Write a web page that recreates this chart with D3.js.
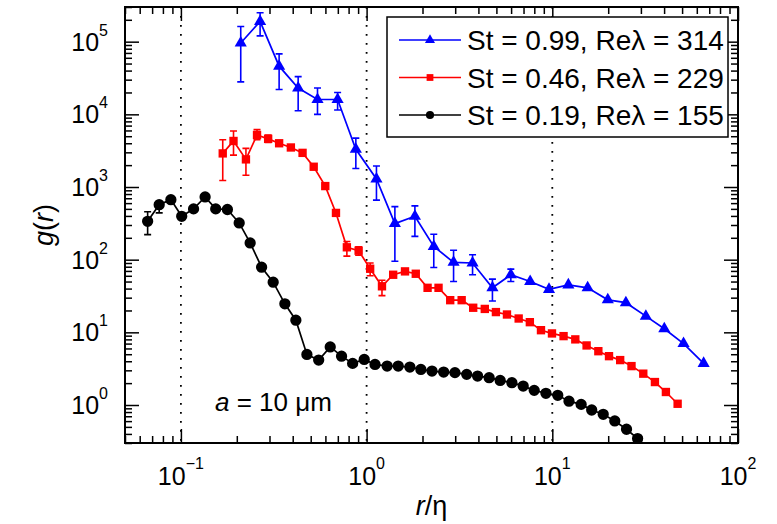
<!DOCTYPE html>
<html>
<head>
<meta charset="utf-8">
<script src="https://cdn.jsdelivr.net/npm/d3@7"></script>
<style>
  body { margin: 0; background: #fff; }
  svg text { font-family: "Liberation Sans", Arial, Helvetica, sans-serif; fill: #000; }
</style>
</head>
<body>
<svg id="chart"></svg>
<script>
// St = 0.99 (blue triangles)
const blueR = [0.21, 0.267, 0.338, 0.428, 0.544, 0.698, 0.875, 1.13, 1.42, 1.82, 2.30, 2.94, 3.72, 4.76, 5.98, 7.6, 9.6, 12.2, 15.5, 19.9, 24.9, 31.9, 40.1, 50.9, 65.3];
const blueG = [9.6e4, 1.9e5, 4.6e4, 2.3e4, 1.6e4, 1.6e4, 3300, 1290, 314, 395, 152, 92, 90, 41, 62, 50, 39, 45, 41, 28, 25.6, 16.7, 11.2, 7.0, 3.74];
const blueErr = [[2.8e4, 1.62e5], [1.2e5, 2.5e5], [2.2e4, 6.8e4], [1.12e4, 3.3e4], [1.0e4, 2.3e4], [1.15e4, 2.0e4], [1800, 4700], [660, 1950], [95, 537], [209, 550], [78, 224], [50, 135], [62, 117], [27, 54], [50, 74]];

// St = 0.46 (red squares)
const redR = [0.168, 0.192, 0.224, 0.257, 0.295, 0.338, 0.391, 0.452, 0.519, 0.599, 0.684, 0.783, 0.906, 1.045, 1.21, 1.39, 1.61, 1.84, 2.13, 2.44, 2.82, 3.25, 3.75, 4.33, 4.97, 5.70, 6.59, 7.57, 8.69, 9.96, 11.5, 13.3, 15.3, 17.7, 20.2, 23.2, 26.7, 30.9, 35.7, 40.9, 47.3];
const redG = [2900, 4300, 2400, 5200, 4600, 4000, 3500, 2950, 1900, 1030, 440, 148, 133, 75, 43, 62, 69, 64, 41, 41, 27.7, 27.7, 21.8, 21, 19, 17.6, 15.5, 13.8, 10.7, 9.66, 8.87, 8.0, 6.6, 5.5, 4.7, 4.15, 3.43, 2.70, 2.07, 1.51, 1.04];
const redErr = [[1230, 4470], [2750, 5900], [1450, 3400], [4470, 6170], [4100, 5200], null, null, null, null, null, null, [112, 178], [115, 150], [60, 90], [32, 52]];

// St = 0.19 (black circles)
const blackR = [0.0662, 0.0764, 0.0883, 0.101, 0.117, 0.135, 0.154, 0.178, 0.206, 0.236, 0.272, 0.314, 0.363, 0.416, 0.477, 0.552, 0.637, 0.733, 0.841, 0.971, 1.11, 1.29, 1.48, 1.71, 1.96, 2.25, 2.60, 2.99, 3.46, 3.96, 4.57, 5.24, 6.06, 6.97, 7.99, 9.24, 10.7, 12.3, 14.3, 16.3, 18.8, 21.7, 25.1, 28.8];
const blackG = [337, 571, 670, 395, 500, 730, 500, 490, 320, 170, 78.7, 49, 24.7, 14.7, 4.97, 4.15, 6.3, 4.7, 3.74, 4.24, 3.62, 3.43, 3.43, 3.33, 3.09, 2.93, 2.84, 2.79, 2.64, 2.50, 2.38, 2.18, 2.03, 1.82, 1.59, 1.45, 1.36, 1.13, 1.02, 0.854, 0.745, 0.603, 0.464, 0.345];
const blackErr = [[221, 457], [440, 633]];

const legendLabels = ["St = 0.99, Re\u03bb = 314", "St = 0.46, Re\u03bb = 229", "St = 0.19, Re\u03bb = 155"];
const xMajor = [0.1, 1, 10, 100];
const xExp = ["\u22121", "0", "1", "2"];
const yMajor = [1, 10, 100, 1000, 1e4, 1e5];
const yExp = ["0", "1", "2", "3", "4", "5"];
const guideLines = [0.1, 1, 10];

const margin = {top: 7, right: 39, bottom: 81, left: 125};
const width = 777 - margin.left - margin.right;
const height = 524 - margin.top - margin.bottom;

const svgRoot = d3.select("#chart")
    .attr("width", 777)
    .attr("height", 524);

const svg = svgRoot.append("g")
    .attr("transform", `translate(${margin.left},${margin.top})`);

const x = d3.scaleLog().domain([0.05, 100]).range([0, width]);
const y = d3.scaleLog().domain([0.3, 3e5]).range([height, 0]);

const isMajor = v => Math.abs(Math.log10(v) - Math.round(Math.log10(v))) < 1e-9;
const xMinor = x.ticks().filter(v => !isMajor(v));
const yMinor = y.ticks().filter(v => !isMajor(v));

svgRoot.append("defs").append("clipPath")
    .attr("id", "plot-clip")
    .append("rect")
    .attr("width", width)
    .attr("height", height);

// dotted guides
svg.selectAll(".guide")
    .data(guideLines)
    .enter()
    .append("line")
    .attr("class", "guide")
    .attr("x1", d => x(d)).attr("x2", d => x(d))
    .attr("y1", 0).attr("y2", height)
    .style("stroke", "#000")
    .style("stroke-width", 1.8)
    .style("stroke-dasharray", "1.8,7.2");

// ticks on all four sides, pointing inward
function ticks (axisFn, values, size, transform) {
    const g = svg.append("g")
        .attr("transform", transform)
        .call(axisFn.tickValues(values).tickSize(-size).tickSizeOuter(0).tickFormat(""));
    g.select(".domain").remove();
    g.selectAll("line").style("stroke", "#000").style("stroke-width", 1.5);
}
ticks(d3.axisBottom(x), xMinor, 7, `translate(0,${height})`);
ticks(d3.axisBottom(x), xMajor, 14, `translate(0,${height})`);
ticks(d3.axisTop(x), xMinor, 7, "translate(0,0)");
ticks(d3.axisTop(x), xMajor, 14, "translate(0,0)");
ticks(d3.axisLeft(y), yMinor, 7, "translate(0,0)");
ticks(d3.axisLeft(y), yMajor, 14, "translate(0,0)");
ticks(d3.axisRight(y), yMinor, 7, `translate(${width},0)`);
ticks(d3.axisRight(y), yMajor, 14, `translate(${width},0)`);

svg.append("rect")
    .attr("width", width)
    .attr("height", height)
    .style("fill", "none")
    .style("stroke", "#000")
    .style("stroke-width", 2);

// tick labels 10^n
const xLab = svg.selectAll(".xlab")
    .data(xMajor)
    .enter()
    .append("text")
    .attr("class", "xlab")
    .attr("x", d => x(d))
    .attr("y", height + 42)
    .attr("text-anchor", "middle")
    .style("font-size", "25px");
xLab.append("tspan").text("10");
xLab.append("tspan").attr("dy", -16).style("font-size", "16px").text((d, i) => xExp[i]);

const yLab = svg.selectAll(".ylab")
    .data(yMajor)
    .enter()
    .append("text")
    .attr("class", "ylab")
    .attr("x", -17)
    .attr("y", d => y(d) + 9)
    .attr("text-anchor", "end")
    .style("font-size", "25px");
yLab.append("tspan").text("10");
yLab.append("tspan").attr("dy", -15).style("font-size", "16px").text((d, i) => yExp[i]);

// axis titles
const yTitle = svg.append("text")
    .attr("transform", `translate(-72,${height / 2}) rotate(-90)`)
    .attr("text-anchor", "middle")
    .style("font-size", "27px");
yTitle.append("tspan").style("font-style", "italic").text("g");
yTitle.append("tspan").text("(");
yTitle.append("tspan").style("font-style", "italic").text("r");
yTitle.append("tspan").text(")");

const xTitle = svg.append("text")
    .attr("x", width / 2)
    .attr("y", height + 72)
    .attr("text-anchor", "middle")
    .style("font-size", "27px");
xTitle.append("tspan").style("font-style", "italic").text("r");
xTitle.append("tspan").text("/\u03b7");

const note = svg.append("text")
    .attr("x", 90)
    .attr("y", 404)
    .style("font-size", "26px");
note.append("tspan").style("font-style", "italic").text("a");
note.append("tspan").text(" = 10 \u03bcm");

// series
const series = [
    {r: blueR, g: blueG, err: blueErr, color: "#0000ff", symbol: d3.symbolTriangle, size: 64, legendSize: 44},
    {r: redR, g: redG, err: redErr, color: "#ff0000", symbol: d3.symbolSquare, size: 70, legendSize: 46},
    {r: blackR, g: blackG, err: blackErr, color: "#000000", symbol: d3.symbolCircle, size: 100, legendSize: 52}
];

const line = d3.line()
    .x(d => x(d.r))
    .y(d => y(d.g));

const plot = svg.append("g").attr("clip-path", "url(#plot-clip)");

series.forEach(s => {
    const pts = s.r.map((r, i) => ({r: r, g: s.g[i], err: s.err[i]}));
    const grp = plot.append("g");

    const bars = pts.filter(d => d.err);
    grp.selectAll(".err")
        .data(bars)
        .enter()
        .append("path")
        .attr("d", d => {
            const cx = x(d.r), lo = y(d.err[0]), hi = y(d.err[1]);
            return `M${cx},${lo}V${hi}M${cx - 3.5},${lo}H${cx + 3.5}M${cx - 3.5},${hi}H${cx + 3.5}`;
        })
        .style("fill", "none")
        .style("stroke", s.color)
        .style("stroke-width", 1.6);

    grp.append("path")
        .attr("d", line(pts))
        .style("fill", "none")
        .style("stroke", s.color)
        .style("stroke-width", 1.7);

    grp.selectAll(".mark")
        .data(pts)
        .enter()
        .append("path")
        .attr("transform", d => `translate(${x(d.r)},${y(d.g)})`)
        .attr("d", d3.symbol().type(s.symbol).size(s.size))
        .style("fill", s.color);
});

// legend
const legend = svg.append("g")
    .attr("transform", "translate(262,10)");

legend.append("rect")
    .attr("width", 341)
    .attr("height", 120)
    .style("fill", "#fff")
    .style("stroke", "#000")
    .style("stroke-width", 1.5);

const rows = legend.selectAll(".row")
    .data(series)
    .enter()
    .append("g")
    .attr("transform", (d, i) => `translate(0,${23 + 37.5 * i})`);

rows.append("line")
    .attr("x1", 12).attr("x2", 74)
    .style("stroke", d => d.color)
    .style("stroke-width", 1.5);

rows.append("path")
    .attr("transform", "translate(43,0)")
    .attr("d", d => d3.symbol().type(d.symbol).size(d.legendSize)())
    .style("fill", d => d.color);

rows.append("text")
    .attr("x", 80)
    .attr("y", 10)
    .style("font-size", "28px")
    .text((d, i) => legendLabels[i]);
</script>
</body>
</html>
